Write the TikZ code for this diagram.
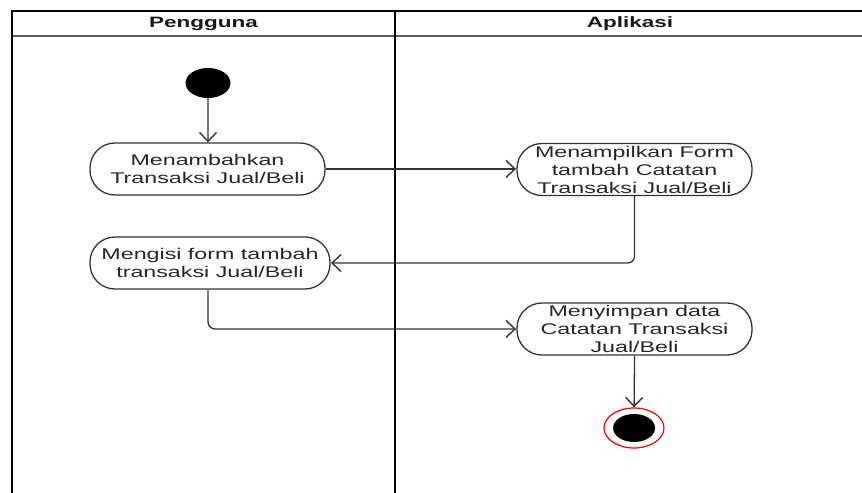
\documentclass[tikz,border=0pt]{standalone}
\usepackage{fontspec}
\setmainfont{Liberation Sans}
\usetikzlibrary{arrows.meta,shapes.geometric}
\begin{document}
\begin{tikzpicture}[x=0.666667pt, y=-1pt, xscale=1.5, transform shape,
  frame/.style={line width=1.6pt, draw=black},
  hdrline/.style={line width=1.6pt, draw=black!65},
  lanetitle/.style={font=\bfseries\fontsize{15}{18}\selectfont, inner sep=0pt, text=black!90},
  act/.style={draw=black!80, line width=1.3pt, rectangle, rounded corners=25pt,
    align=center, inner sep=0pt, minimum height=52pt,
    font=\fontsize{15.5}{18}\selectfont, text=black!85},
  conn/.style={draw=black!80, line width=1.3pt,
    -{Straight Barb[length=9pt,width=17pt,line width=1.4pt]}},
  startst/.style={circle, fill=black, inner sep=0pt, minimum size=30pt},
  endring/.style={circle, draw=red, line width=1.2pt, fill=white, inner sep=0pt, minimum size=40pt},
  enddot/.style={circle, fill=black, inner sep=0pt, minimum size=28pt}]
\useasboundingbox (0,0) rectangle (862,493);
% swimlane frame
\draw[hdrline] (12,36) -- (862,36);
\draw[frame] (12,493) -- (12,11) -- (862,11);
\draw[frame] (395,11) -- (395,493);
\node[lanetitle] (lane1) at (203.5,24) {Pengguna};
\node[lanetitle] (lane2) at (630,24) {Aplikasi};
% nodes
\node[startst] (start) at (208,83) {};
\node[act, minimum width=156.7pt] (a) at (207.5,169) {Menambahkan\\Transaksi Jual/Beli};
\node[act, minimum width=156.7pt] (b) at (634.5,169.5) {Menampilkan Form\\tambah Catatan\\Transaksi Jual/Beli};
\node[act, minimum width=160pt] (c) at (210,263) {Mengisi form tambah\\transaksi Jual/Beli};
\node[act, minimum width=156.7pt] (d) at (634.5,329) {Menyimpan data\\Catatan Transaksi\\Jual/Beli};
\node[endring] (end) at (634,428) {};
\node[enddot] (enddot) at (end.center) {};
% connectors
\draw[conn] (start) -- (start |- a.north);
\draw[conn] (a.east) -- (a.east -| b.west);
\draw[conn, rounded corners=7pt] (b.south) |- (c.east);
\draw[conn, rounded corners=7pt] (c.south -| start) |- (d.west);
\draw[conn] (d.south) -- (end.north);
\end{tikzpicture}
\end{document}
